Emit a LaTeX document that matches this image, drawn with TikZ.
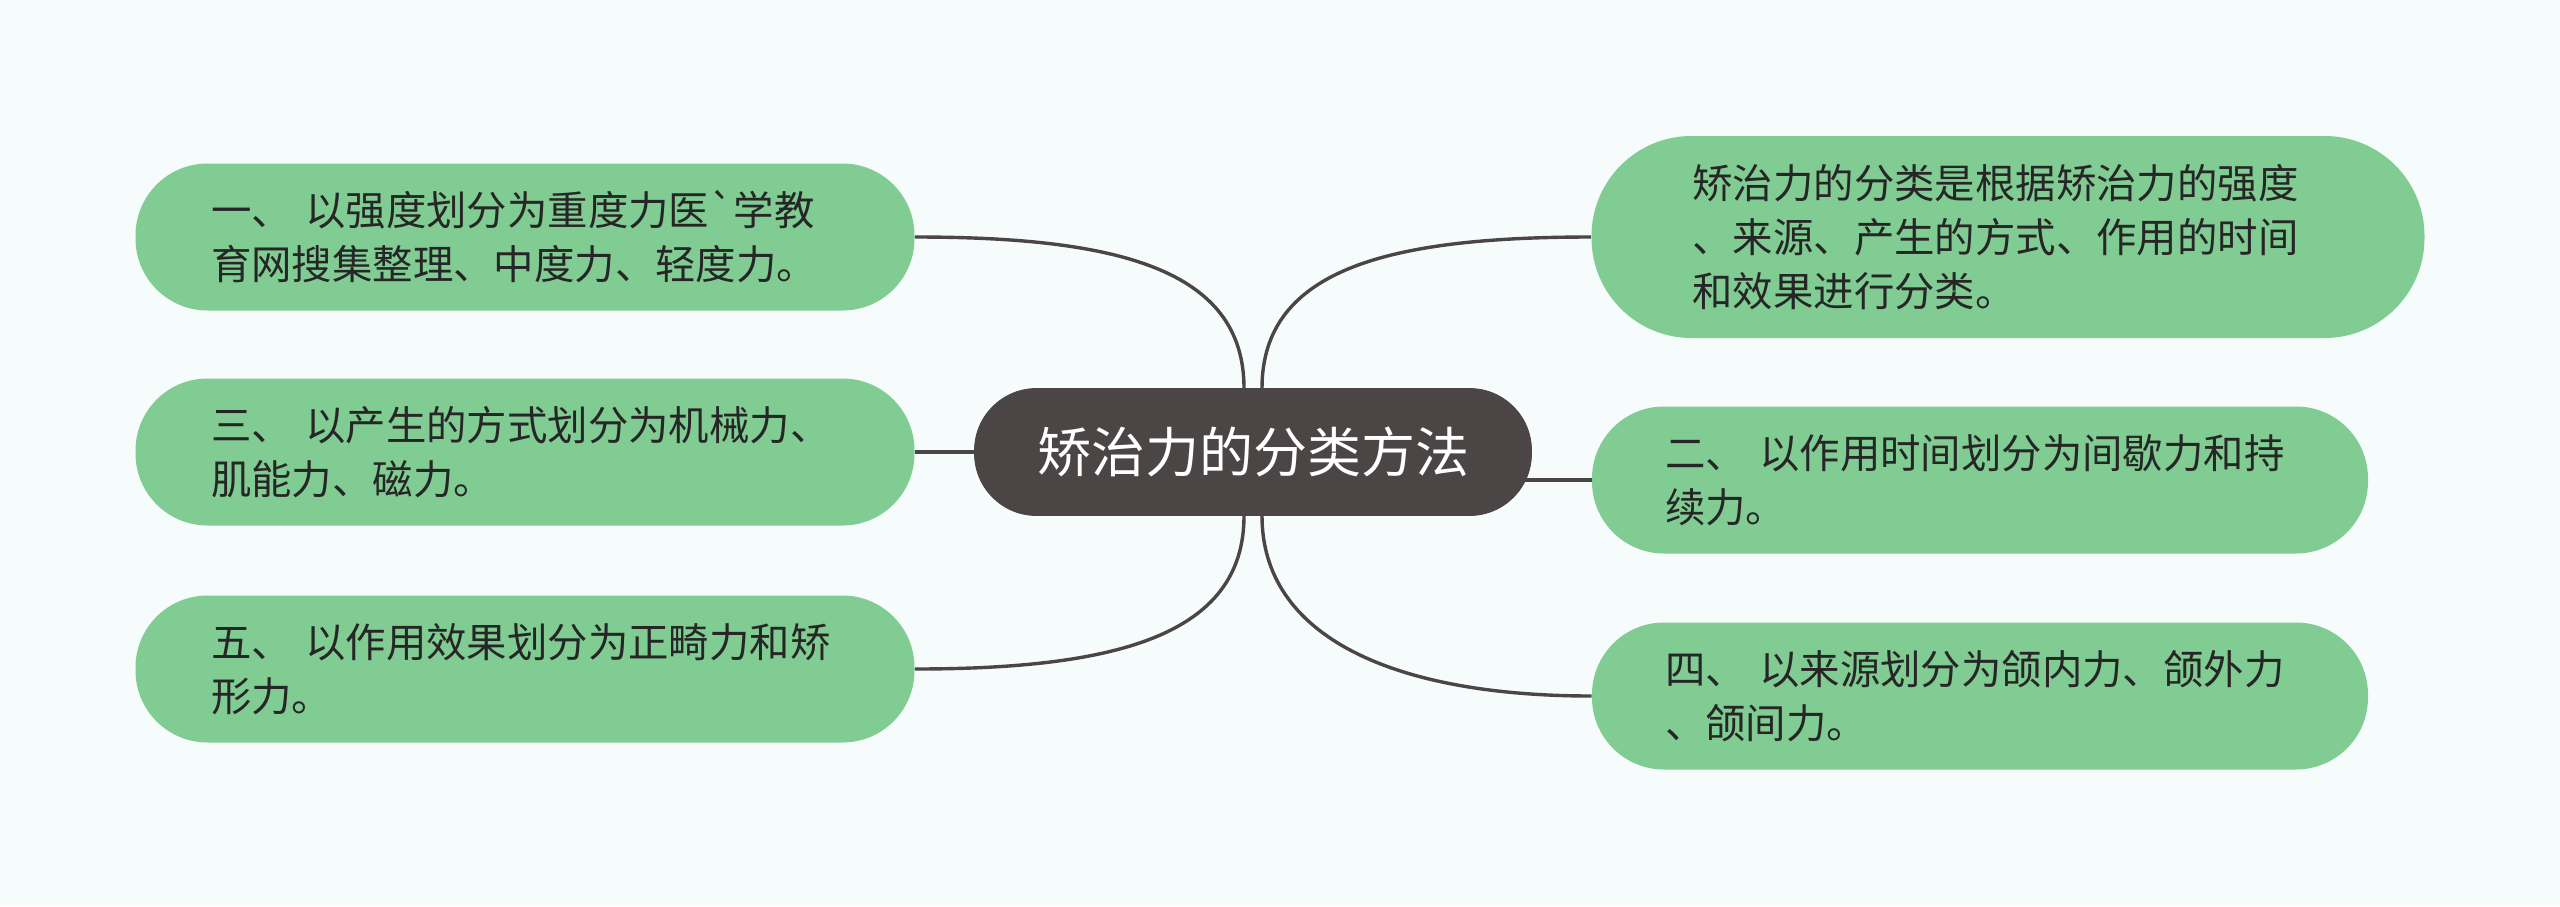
\documentclass[tikz,border=0pt]{standalone}
\usepackage{fontspec}
\usepackage{tikz}
\usetikzlibrary{positioning,backgrounds}
\newfontfamily\cjkfont{Noto Sans CJK SC}
\definecolor{leafgreen}{HTML}{80CC92}
\definecolor{rootgray}{HTML}{4B4546}
\definecolor{inkgray}{HTML}{262626}
\definecolor{paper}{HTML}{F6FBFC}
\tikzset{
  leafbox/.style={fill=leafgreen, rounded corners=36pt, minimum width=389.5pt, minimum height=73.5pt, text width=314pt, align=left, inner sep=0pt, text=inkgray, font=\cjkfont\fontsize{20.2pt}{27pt}\selectfont},
  rootbox/.style={draw=rootgray, fill=rootgray, rounded corners=31pt, minimum width=278.5pt, minimum height=63.5pt, inner sep=0pt, text=white, font=\cjkfont\fontsize{27pt}{32pt}\selectfont},
  link/.style={draw=rootgray, line width=1.7pt}
}

\begin{document}
\begin{tikzpicture}[x=0.5pt, y=-0.5pt]
  \useasboundingbox (0,0) rectangle (2560,906);
  \node[rootbox] (root) at (1253,452) {矫治力的分类方法};
  \node[leafbox] (one) at (525,237) {一、 以强度划分为重度力医`学教\\育网搜集整理、中度力、轻度力。};
  \node[leafbox] (three) at (525,452) {三、 以产生的方式划分为机械力、\\肌能力、磁力。};
  \node[leafbox] (five) at (525,669) {五、 以作用效果划分为正畸力和矫\\形力。};
  \node[leafbox, minimum width=416.5pt, minimum height=101pt, rounded corners=50pt, text width=315.5pt] (basis) at (2008,237) {矫治力的分类是根据矫治力的强度\\、来源、产生的方式、作用的时间\\和效果进行分类。};
  \node[leafbox, minimum width=388pt, text width=315pt] (two) at (1980,480) {二、 以作用时间划分为间歇力和持\\续力。};
  \node[leafbox, minimum width=388pt, text width=315pt] (four) at (1980,696) {四、 以来源划分为颌内力、颌外力\\、颌间力。};
  \begin{scope}[on background layer]
    \fill[paper] (0,0) rectangle (2560,906);
    \draw[link] (one.east) .. controls +(200,0) and +(0,-120) .. ([xshift=-4.5pt]root.north);
    \draw[link] (basis.west) .. controls +(-200,0) and +(0,-120) .. ([xshift=4.5pt]root.north);
    \draw[link] (five.east) .. controls +(200,0) and +(0,120) .. ([xshift=-4.5pt]root.south);
    \draw[link] (four.west) .. controls +(-200,0) and +(0,120) .. ([xshift=4.5pt]root.south);
    \draw[link] (three.east) -- (root.west);
    \draw[link] (two.west) -- (two.west -| root.center);
  \end{scope}
\end{tikzpicture}
\end{document}
